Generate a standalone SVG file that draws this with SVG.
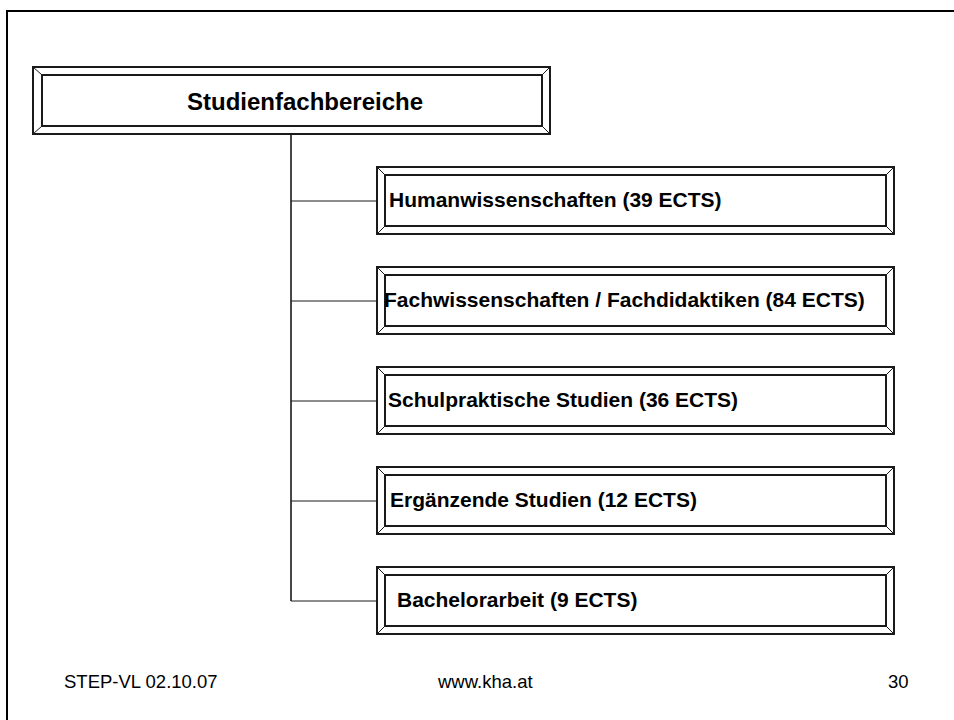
<svg xmlns="http://www.w3.org/2000/svg" width="954" height="720" viewBox="0 0 954 720">
<style>
.outer{fill:#fff;stroke:#1a1a1a;stroke-width:2}
.inner{fill:none;stroke:#1a1a1a;stroke-width:2}
.bev{stroke:#1a1a1a;stroke-width:1;fill:none}
.conn{stroke:#1a1a1a;fill:none}
.t{font-family:"Liberation Sans",Arial,sans-serif;font-weight:bold;fill:#000}
.c{font-size:21px}
.f{font-family:"Liberation Sans",Arial,sans-serif;font-size:18.5px;fill:#000}
</style>
<rect width="954" height="720" fill="#fff"/>
<path d="M7 720 V11 H954" fill="none" stroke="#000" stroke-width="2"/>
<g id="connectors">
<line class="conn" x1="291" y1="134" x2="291" y2="601" stroke-width="1.6"/>
<line class="conn" x1="291" y1="201" x2="377" y2="201" stroke-width="1"/>
<line class="conn" x1="291" y1="301" x2="377" y2="301" stroke-width="1"/>
<line class="conn" x1="291" y1="401" x2="377" y2="401" stroke-width="1"/>
<line class="conn" x1="291" y1="501" x2="377" y2="501" stroke-width="1"/>
<line class="conn" x1="291" y1="601" x2="377" y2="601" stroke-width="1"/>
</g>
<g id="root">
<rect class="outer" x="33" y="67" width="517" height="67"/>
<path class="bev" d="M33 67 L42 75 M550 67 L542 75 M33 134 L42 126 M550 134 L542 126"/>
<rect class="inner" x="42" y="75" width="500" height="51"/>
<text class="t" x="187" y="110" font-size="24">Studienfachbereiche</text>
</g>
<g id="n1">
<rect class="outer" x="377" y="167" width="517" height="67"/>
<path class="bev" d="M377 167 L385 175 M894 167 L886 175 M377 234 L385 226 M894 234 L886 226"/>
<rect class="inner" x="385" y="175" width="501" height="51"/>
<text class="t c" x="389" y="207">Humanwissenschaften (39 ECTS)</text>
</g>
<g id="n2">
<rect class="outer" x="377" y="267" width="517" height="67"/>
<path class="bev" d="M377 267 L385 275 M894 267 L886 275 M377 334 L385 326 M894 334 L886 326"/>
<rect class="inner" x="385" y="275" width="501" height="51"/>
<text class="t c" x="384" y="307">Fachwissenschaften / Fachdidaktiken (84 ECTS)</text>
</g>
<g id="n3">
<rect class="outer" x="377" y="367" width="517" height="67"/>
<path class="bev" d="M377 367 L385 375 M894 367 L886 375 M377 434 L385 426 M894 434 L886 426"/>
<rect class="inner" x="385" y="375" width="501" height="51"/>
<text class="t c" x="388" y="407">Schulpraktische Studien (36 ECTS)</text>
</g>
<g id="n4">
<rect class="outer" x="377" y="467" width="517" height="67"/>
<path class="bev" d="M377 467 L385 475 M894 467 L886 475 M377 534 L385 526 M894 534 L886 526"/>
<rect class="inner" x="385" y="475" width="501" height="51"/>
<text class="t c" x="390" y="507">Ergänzende Studien (12 ECTS)</text>
</g>
<g id="n5">
<rect class="outer" x="377" y="567" width="517" height="67"/>
<path class="bev" d="M377 567 L385 575 M894 567 L886 575 M377 634 L385 626 M894 634 L886 626"/>
<rect class="inner" x="385" y="575" width="501" height="51"/>
<text class="t c" x="397" y="607">Bachelorarbeit (9 ECTS)</text>
</g>
<g id="footer">
<text class="f" x="64" y="688">STEP-VL 02.10.07</text>
<text class="f" x="438" y="688">www.kha.at</text>
<text class="f" x="888" y="688">30</text>
</g>
</svg>
